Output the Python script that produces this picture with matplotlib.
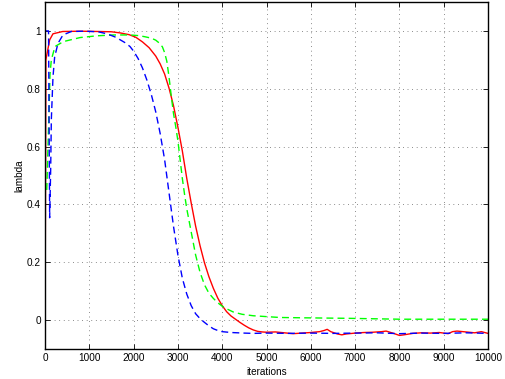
import matplotlib
matplotlib.use('Agg')
import matplotlib.pyplot as plt

# data (iterations, lambda)
red_x = [0, 20, 105, 180, 400, 800, 1200, 1500, 1700, 1900, 2050, 2200, 2350,
         2500, 2600, 2700, 2800, 2900, 3000, 3100, 3200, 3300, 3400, 3500, 3600,
         3700, 3800, 3900, 4000, 4100, 4200, 4300, 4400, 4500, 4600, 4700, 4800,
         4900, 5000, 5200, 5400, 5600, 5800, 6000, 6200, 6300, 6370, 6450, 6600,
         6700, 6800, 7000, 7200, 7400, 7600, 7700, 7850, 8000, 8100, 8300, 8500,
         8700, 8900, 9100, 9200, 9300, 9500, 9700, 9850, 10000]
red_y = [-0.1, 0.9, 0.969, 0.99, 0.998, 0.999, 0.998, 0.997, 0.993, 0.987,
         0.978, 0.962, 0.942, 0.913, 0.886, 0.851, 0.802, 0.742, 0.667, 0.585,
         0.49, 0.405, 0.325, 0.257, 0.198, 0.15, 0.11, 0.076, 0.05, 0.029, 0.014,
         0.003, -0.008, -0.018, -0.027, -0.034, -0.039, -0.041, -0.042, -0.041,
         -0.044, -0.047, -0.045, -0.043, -0.040, -0.036, -0.032, -0.040, -0.048,
         -0.051, -0.048, -0.045, -0.043, -0.042, -0.040, -0.038, -0.045, -0.053,
         -0.051, -0.046, -0.044, -0.045, -0.043, -0.047, -0.040, -0.038, -0.041,
         -0.044, -0.040, -0.046]

blue_x = [0, 80, 105, 128, 143, 180, 218, 293, 406, 594, 900, 1200, 1400, 1600,
          1800, 1919, 2000, 2100, 2200, 2300, 2400, 2500, 2600, 2700, 2800, 2900,
          3000, 3100, 3200, 3300, 3400, 3500, 3600, 3700, 3800, 3900, 4000, 4200,
          4500, 4700, 5000, 5500, 6000, 6500, 7000, 7500, 8000, 8500, 9000, 9500,
          10000]
blue_y = [1.0, 1.0, 0.354, 0.52, 0.693, 0.84, 0.91, 0.957, 0.986, 0.998, 0.999,
          0.997, 0.99, 0.978, 0.96, 0.946, 0.93, 0.905, 0.872, 0.83, 0.78, 0.72,
          0.645, 0.555, 0.44, 0.325, 0.225, 0.145, 0.09, 0.05, 0.022, 0.005,
          -0.008, -0.02, -0.03, -0.036, -0.04, -0.043, -0.045, -0.046, -0.045,
          -0.046, -0.045, -0.046, -0.045, -0.044, -0.047, -0.045, -0.046,
          -0.044, -0.046]

green_x = [40, 90, 113, 143, 226, 413, 790, 1166, 1542, 1919, 2100, 2250, 2400,
           2500, 2580, 2650, 2700, 2750, 2800, 2850, 2900, 2950, 3000, 3050, 3100,
           3150, 3200, 3300, 3400, 3500, 3600, 3700, 3800, 3900, 4000, 4100, 4250,
           4450, 4700, 5000, 5305, 5756, 6885, 8014, 10000]
green_y = [0.45, 0.72, 0.85, 0.9, 0.946, 0.963, 0.977, 0.983, 0.986, 0.986,
           0.984, 0.98, 0.975, 0.968, 0.958, 0.945, 0.925, 0.895, 0.84, 0.775,
           0.715, 0.67, 0.62, 0.555, 0.49, 0.435, 0.385, 0.305, 0.225, 0.165,
           0.122, 0.093, 0.075, 0.06, 0.048, 0.039, 0.028, 0.02, 0.015, 0.012,
           0.009, 0.008, 0.006, 0.003, 0.003]

xticks = [0, 1000, 2000, 3000, 4000, 5000, 6000, 7000, 8000, 9000, 10000]
yticks = [0, 0.2, 0.4, 0.6, 0.8, 1]


def main():
    plt.rcParams['font.family'] = ['Liberation Sans', 'DejaVu Sans']
    plt.rcParams['font.size'] = 7.2

    fig = plt.figure(figsize=(5.05, 3.79), dpi=100)
    ax = fig.add_axes([45 / 505, 30 / 379, 443 / 505, 347 / 379])

    ax.plot(red_x, red_y, color=(1, 0, 0), linewidth=1.0)
    ax.plot(green_x, green_y, color=(0, 1, 0), linewidth=1.0,
            linestyle=(0, (5, 3)))
    ax.plot(blue_x, blue_y, color=(0, 0, 1), linewidth=1.0,
            linestyle=(0, (5, 3)))

    ax.set_xlim(0, 10000)
    ax.set_ylim(-0.1, 1.1)
    ax.set_xticks(xticks)
    ax.set_yticks(yticks)
    ax.set_yticklabels(['0', '0.2', '0.4', '0.6', '0.8', '1'])
    ax.tick_params(direction='in', length=3.5, width=0.6, top=True, right=True,
                   pad=3, colors='black')
    ax.grid(True, linestyle=(0, (1, 4.5)), color='0.4', linewidth=0.6)
    for sp in ax.spines.values():
        sp.set_linewidth(1.0)

    ax.set_xlabel('iterations', labelpad=2.5)
    ax.set_ylabel('lambda', labelpad=2)

    fig.savefig('out.png', dpi=100)


if __name__ == '__main__':
    main()
